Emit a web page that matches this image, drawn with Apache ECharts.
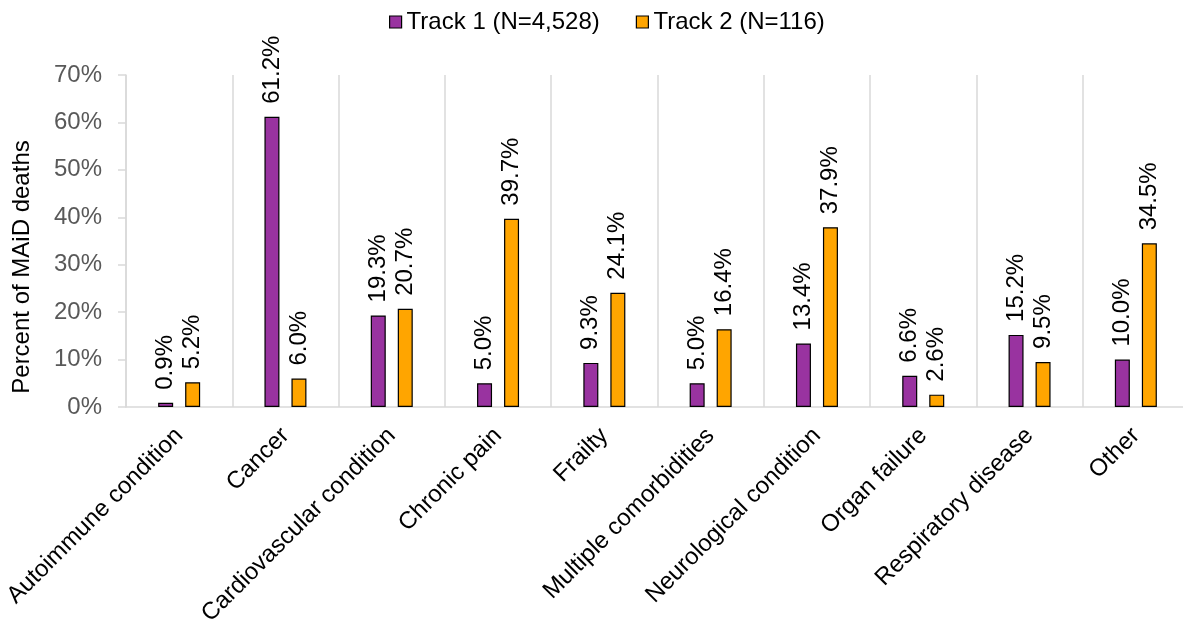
<!DOCTYPE html>
<html>
<head>
<meta charset="utf-8">
<script src="https://cdn.jsdelivr.net/npm/echarts@6/dist/echarts.min.js"></script>
<style>
  html, body { margin: 0; padding: 0; background: #fff; }
  #chart { width: 1183px; height: 620px; }
</style>
</head>
<body>
<div id="chart"></div>
<script>
// Conditions reported for MAiD deaths, by track
const categories = [
  'Autoimmune condition', 'Cancer', 'Cardiovascular condition', 'Chronic pain',
  'Frailty', 'Multiple comorbidities', 'Neurological condition', 'Organ failure',
  'Respiratory disease', 'Other'
];
const track1 = [0.9, 61.2, 19.3, 5.0, 9.3, 5.0, 13.4, 6.6, 15.2, 10.0];
const track2 = [5.2, 6.0, 20.7, 39.7, 24.1, 16.4, 37.9, 2.6, 9.5, 34.5];
const seriesNames = ['Track 1 (N=4,528)', 'Track 2 (N=116)'];
const yTicks = [0, 10, 20, 30, 40, 50, 60, 70];

const font = '"Liberation Sans", Arial, Helvetica, sans-serif';
const fontSize = 24;
const gridGrey = '#d9d9d9';

const chart = echarts.init(document.getElementById('chart'), null, { renderer: 'canvas' });

function barSeries(name, data, color) {
  return {
    name: name,
    type: 'bar',
    data: data,
    barWidth: 15,
    barGap: '80%',
    itemStyle: { color: color, borderColor: '#000', borderWidth: 1.2 },
    label: {
      show: true,
      position: 'top',
      rotate: 90,
      align: 'left',
      verticalAlign: 'middle',
      distance: 13,
      fontFamily: font,
      fontSize: fontSize,
      color: '#000',
      formatter: p => p.value.toFixed(1) + '%'
    }
  };
}

chart.setOption({
  animation: false,
  textStyle: { fontFamily: font },
  legend: {
    top: 10,
    left: 389,
    padding: 0,
    itemWidth: 12,
    itemHeight: 12,
    itemGap: 36,
    icon: 'rect',
    itemStyle: { borderColor: '#000', borderWidth: 1.2 },
    textStyle: { fontFamily: font, fontSize: fontSize, color: '#000' },
    data: seriesNames
  },
  grid: {
    left: 126, right: -6, top: 75, bottom: 213,
    containLabel: false,
    outerBoundsMode: 'none'
  },
  xAxis: {
    type: 'category',
    data: categories,
    axisLine: { show: true, lineStyle: { color: gridGrey, width: 1.5 } },
    axisTick: { show: false },
    splitLine: { show: true, interval: 0, lineStyle: { color: gridGrey, width: 1.5 } },
    axisLabel: {
      interval: 0,
      rotate: 45,
      margin: 25,
      fontFamily: font,
      fontSize: fontSize,
      color: '#000'
    }
  },
  yAxis: {
    type: 'value',
    min: yTicks[0],
    max: yTicks[yTicks.length - 1],
    interval: 10,
    name: 'Percent of MAiD deaths',
    nameLocation: 'middle',
    nameGap: 92,
    nameRotate: 90,
    nameTextStyle: { fontFamily: font, fontSize: fontSize, color: '#000', padding: [0, 52, 0, 0] },
    axisLine: { show: true, lineStyle: { color: gridGrey, width: 1.5 } },
    axisTick: { show: true, length: 8, inside: false, lineStyle: { color: gridGrey, width: 1.5 } },
    splitLine: { show: false },
    axisLabel: {
      margin: 24,
      fontFamily: font,
      fontSize: fontSize,
      color: '#595959',
      formatter: v => v + '%'
    }
  },
  series: [
    barSeries(seriesNames[0], track1, '#9933a0'),
    barSeries(seriesNames[1], track2, '#ffa500')
  ]
});
</script>
</body>
</html>
